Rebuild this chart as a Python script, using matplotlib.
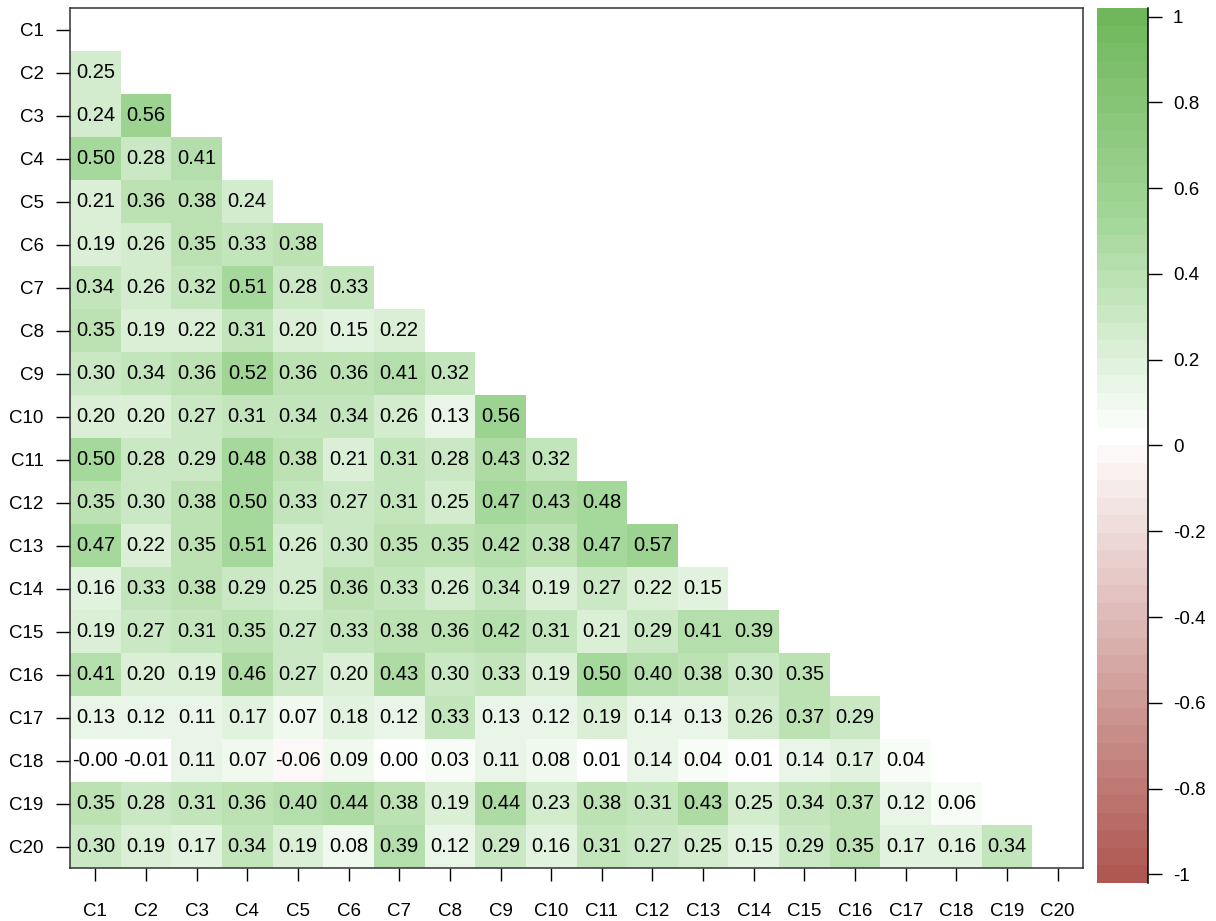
import matplotlib
matplotlib.use("Agg")
import matplotlib.pyplot as plt
import numpy as np
from matplotlib.colors import ListedColormap, BoundaryNorm, to_rgb

plt.rcParams['font.family'] = ['Liberation Sans', 'DejaVu Sans']
plt.rcParams['axes.unicode_minus'] = False

# --- data: lower triangle of the correlation matrix (row i has i values) ---
labels = [f"C{i}" for i in range(1, 21)]
rows = [
    [],
    [0.25],
    [0.24, 0.56],
    [0.50, 0.28, 0.41],
    [0.21, 0.36, 0.38, 0.24],
    [0.19, 0.26, 0.35, 0.33, 0.38],
    [0.34, 0.26, 0.32, 0.51, 0.28, 0.33],
    [0.35, 0.19, 0.22, 0.31, 0.20, 0.15, 0.22],
    [0.30, 0.34, 0.36, 0.52, 0.36, 0.36, 0.41, 0.32],
    [0.20, 0.20, 0.27, 0.31, 0.34, 0.34, 0.26, 0.13, 0.56],
    [0.50, 0.28, 0.29, 0.48, 0.38, 0.21, 0.31, 0.28, 0.43, 0.32],
    [0.35, 0.30, 0.38, 0.50, 0.33, 0.27, 0.31, 0.25, 0.47, 0.43, 0.48],
    [0.47, 0.22, 0.35, 0.51, 0.26, 0.30, 0.35, 0.35, 0.42, 0.38, 0.47, 0.57],
    [0.16, 0.33, 0.38, 0.29, 0.25, 0.36, 0.33, 0.26, 0.34, 0.19, 0.27, 0.22, 0.15],
    [0.19, 0.27, 0.31, 0.35, 0.27, 0.33, 0.38, 0.36, 0.42, 0.31, 0.21, 0.29, 0.41, 0.39],
    [0.41, 0.20, 0.19, 0.46, 0.27, 0.20, 0.43, 0.30, 0.33, 0.19, 0.50, 0.40, 0.38, 0.30, 0.35],
    [0.13, 0.12, 0.11, 0.17, 0.07, 0.18, 0.12, 0.33, 0.13, 0.12, 0.19, 0.14, 0.13, 0.26, 0.37, 0.29],
    [-0.0, -0.01, 0.11, 0.07, -0.06, 0.09, 0.00, 0.03, 0.11, 0.08, 0.01, 0.14, 0.04, 0.01, 0.14, 0.17, 0.04],
    [0.35, 0.28, 0.31, 0.36, 0.40, 0.44, 0.38, 0.19, 0.44, 0.23, 0.38, 0.31, 0.43, 0.25, 0.34, 0.37, 0.12, 0.06],
    [0.30, 0.19, 0.17, 0.34, 0.19, 0.08, 0.39, 0.12, 0.29, 0.16, 0.31, 0.27, 0.25, 0.15, 0.29, 0.35, 0.17, 0.16, 0.34],
]
cbar_ticks = [-1, -0.8, -0.6, -0.4, -0.2, 0, 0.2, 0.4, 0.6, 0.8, 1]

n = len(labels)
M = np.full((n, n), np.nan)
for i, r in enumerate(rows):
    M[i, :len(r)] = r
M = np.ma.masked_invalid(M)

# --- discrete red-white-green palette (50 bands) ---
nb = 50
red = np.array(to_rgb("#AF5852"))
green_mid = np.array([165, 216, 155]) / 255
green = np.array(to_rgb("#70B75C"))
white = np.ones(3)
cols = []
for k in range(nb):
    if k < 25:
        t = (25 - k) / 25
        cols.append(white + t * (red - white))
    else:
        t = (k - 25) / 24
        if t <= 0.5:
            cols.append(white + (t / 0.5) * (green_mid - white))
        else:
            cols.append(green_mid + ((t - 0.5) / 0.5) * (green - green_mid))
cmap = ListedColormap(cols)
bounds = np.linspace(-1.02, 1.02, nb + 1)

fig = plt.figure(figsize=(12.16, 9.21), dpi=100)
ax = fig.add_axes([0.0576, 0.0575, 0.833, 0.9338])

edges = np.arange(n + 1) + 0.5
ax.pcolormesh(edges, edges, M, cmap=cmap, norm=BoundaryNorm(bounds - 0.02, nb, clip=True))
for i, r in enumerate(rows):
    for j, v in enumerate(r):
        ax.text(j + 1, i + 1, f"{v:.2f}", ha="center", va="center", fontsize=14.5, color="black")

ax.set_xlim(0.5, n + 0.5)
ax.set_ylim(n + 0.5, 0.5)
ax.set_xticks(np.arange(1, n + 1))
ax.set_xticklabels(labels)
ax.set_yticks(np.arange(1, n + 1))
ax.set_yticklabels(labels)
ax.tick_params(axis="x", length=9, width=1, pad=16, labelsize=13.5)
ax.tick_params(axis="y", length=10, width=1, pad=9, labelsize=13.5)
for s in ax.spines.values():
    s.set_linewidth(1.1)
    s.set_color("#333333")

# --- colour bar ---
cax = fig.add_axes([0.902, 0.0413, 0.042, 0.950])
centers = (bounds[:-1] + bounds[1:]) / 2
cax.pcolormesh([0, 1], bounds, centers.reshape(-1, 1), cmap=cmap, norm=BoundaryNorm(bounds, nb))
cax.set_xlim(0, 1)
cax.set_ylim(-1.02, 1.02)
for side in ["left", "top", "bottom"]:
    cax.spines[side].set_visible(False)
cax.spines["right"].set_linewidth(1.1)
cax.set_xticks([])
cax.yaxis.tick_right()
cax.set_yticks(cbar_ticks)
cax.set_yticklabels([f"{t:g}" for t in cbar_ticks])
cax.tick_params(axis="y", length=10, width=1, pad=8, labelsize=13.5)

fig.savefig("out.png", dpi=100)
